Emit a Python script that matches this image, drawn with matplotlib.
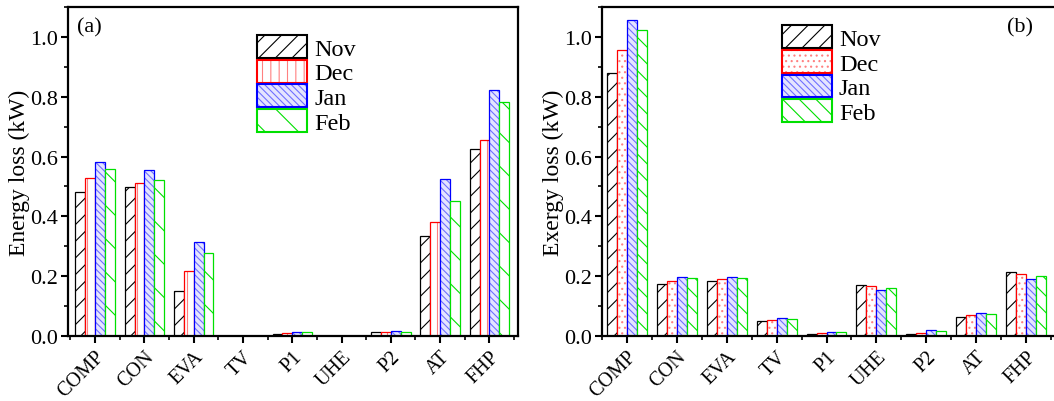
import numpy as np
import matplotlib
matplotlib.use('Agg')
import matplotlib.pyplot as plt
from matplotlib.patches import Patch
from matplotlib.legend_handler import HandlerTuple
from matplotlib.ticker import MultipleLocator

plt.rcParams['font.family'] = ['Liberation Serif', 'DejaVu Serif']
plt.rcParams['hatch.linewidth'] = 0.8

components = ['COMP', 'CON', 'EVA', 'TV', 'P1', 'UHE', 'P2', 'AT', 'FHP']
months = ['Nov', 'Dec', 'Jan', 'Feb']

# (a) energy loss, kW
energy_nov = [0.480, 0.499, 0.151, 0.0, 0.008, 0.0, 0.013, 0.333, 0.626]
energy_dec = [0.527, 0.513, 0.217, 0.0, 0.011, 0.0, 0.014, 0.381, 0.656]
energy_jan = [0.581, 0.554, 0.315, 0.0, 0.013, 0.0, 0.017, 0.526, 0.822]
energy_feb = [0.559, 0.523, 0.278, 0.0, 0.012, 0.0, 0.014, 0.451, 0.783]

# (b) exergy loss, kW
exergy_nov = [0.880, 0.174, 0.183, 0.051, 0.008, 0.170, 0.008, 0.065, 0.213]
exergy_dec = [0.956, 0.183, 0.191, 0.054, 0.010, 0.168, 0.010, 0.070, 0.207]
exergy_jan = [1.056, 0.198, 0.198, 0.060, 0.013, 0.153, 0.019, 0.077, 0.192]
exergy_feb = [1.022, 0.194, 0.194, 0.056, 0.013, 0.160, 0.016, 0.073, 0.201]

edge_colors = ['black', 'red', 'blue', '#00e000']
hatch_colors = ['black', '#ff8080', '#7070ff', '#00e000']
face_colors = ['white', 'white', '#e4e4ff', 'white']
hatches_a = ['//', '||', '\\\\\\\\\\', '\\']
hatches_b = ['//', '...', '\\\\\\\\\\', '\\\\']


def draw_panel(ax, series, hatches, ylabel, tag, tag_xy, leg_anchor):
    x = np.arange(len(components))
    w = 0.2
    handles = []
    for i, vals in enumerate(series):
        pos = x + (i - 1.5) * w
        ax.bar(pos, vals, w, color=face_colors[i], edgecolor=hatch_colors[i],
               hatch=hatches[i], linewidth=0)
        ax.bar(pos, vals, w, fill=False, edgecolor=edge_colors[i], linewidth=0.9)
        h1 = Patch(facecolor=face_colors[i], edgecolor=hatch_colors[i],
                   hatch=hatches[i], linewidth=0)
        h2 = Patch(fill=False, edgecolor=edge_colors[i], linewidth=1.5)
        handles.append((h1, h2))

    ax.set_xlim(-0.55, 8.58)
    ax.set_ylim(0, 1.1)
    ax.set_xticks(x)
    ax.set_xticklabels(components, rotation=45, ha='right',
                       rotation_mode='anchor', fontsize=14.5)
    ax.xaxis.set_minor_locator(MultipleLocator(0.5))
    ax.yaxis.set_major_locator(MultipleLocator(0.2))
    ax.yaxis.set_minor_locator(MultipleLocator(0.1))
    ax.tick_params(which='major', direction='out', length=5, width=1.5,
                   labelsize=16, pad=2, top=False, right=False)
    ax.tick_params(axis='x', which='major', labelsize=14.5, pad=3)
    ax.tick_params(which='minor', direction='out', length=3, width=1.2,
                   top=False, right=False)
    ax.set_ylabel(ylabel, fontsize=17, labelpad=0)
    for s in ax.spines.values():
        s.set_linewidth(1.6)
    ax.text(tag_xy[0], tag_xy[1], tag, transform=ax.transAxes, fontsize=16,
            va='top', ha='left')
    ax.legend(handles, months,
              handler_map={tuple: HandlerTuple(ndivide=1, pad=0)},
              loc='upper left', bbox_to_anchor=leg_anchor, frameon=False,
              fontsize=17.5, handlelength=2.05, handleheight=1.07,
              labelspacing=0.0, handletextpad=0.3, borderpad=0,
              borderaxespad=0)


fig = plt.figure(figsize=(10.54, 4.02), dpi=100)
ax1 = fig.add_axes([68 / 1054, 65 / 402, 450 / 1054, 329 / 402])
ax2 = fig.add_axes([602 / 1054, 65 / 402, 455 / 1054, 329 / 402])

draw_panel(ax1, [energy_nov, energy_dec, energy_jan, energy_feb], hatches_a,
           'Energy loss (kW)', '(a)', (0.02, 0.97), (0.42, 0.915))
draw_panel(ax2, [exergy_nov, exergy_dec, exergy_jan, exergy_feb], hatches_b,
           'Exergy loss (kW)', '(b)', (0.89, 0.97), (0.395, 0.945))
ax2.set_xlim(-0.5, 8.62)

fig.savefig('out.png', dpi=100)
